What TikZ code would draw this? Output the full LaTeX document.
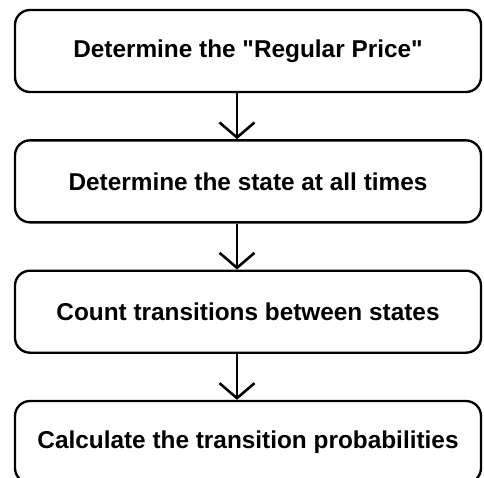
\documentclass[tikz,border=0pt]{standalone}
\usepackage{fontspec}
\setmainfont{Liberation Sans}
\usetikzlibrary{shapes,arrows.meta,positioning}

\begin{document}
\begin{tikzpicture}[node distance=1.38cm, auto]
    % Define styles
    \tikzstyle{stepbox} = [rectangle, rounded corners=0.45cm, minimum width=13.98cm, minimum height=2.46cm, text centered, draw=black, line width=2pt, font=\fontsize{20.8}{25}\selectfont\bfseries]
    \tikzstyle{arrow} = [line width=2pt, -{Straight Barb[length=0.45cm, width=1.05cm, line width=2.2pt]}]

    \useasboundingbox (0,0) rectangle (14.52,-14.31);

    % Nodes
    \node [stepbox] (price) at (7.44,-1.53) {Determine the \textquotedbl Regular Price\textquotedbl};
    \node [stepbox, below=of price] (state) {Determine the state at all times};
    \node [stepbox, below=of state] (count) {Count transitions between states};
    \node [stepbox, below=of count] (prob) {Calculate the transition probabilities};

    % Arrows
    \draw [arrow] ([xshift=-0.33cm]price.south) -- ([xshift=-0.33cm]state.north);
    \draw [arrow] ([xshift=-0.33cm]state.south) -- ([xshift=-0.33cm]count.north);
    \draw [arrow] ([xshift=-0.33cm]count.south) -- ([xshift=-0.33cm]prob.north);
\end{tikzpicture}
\end{document}
